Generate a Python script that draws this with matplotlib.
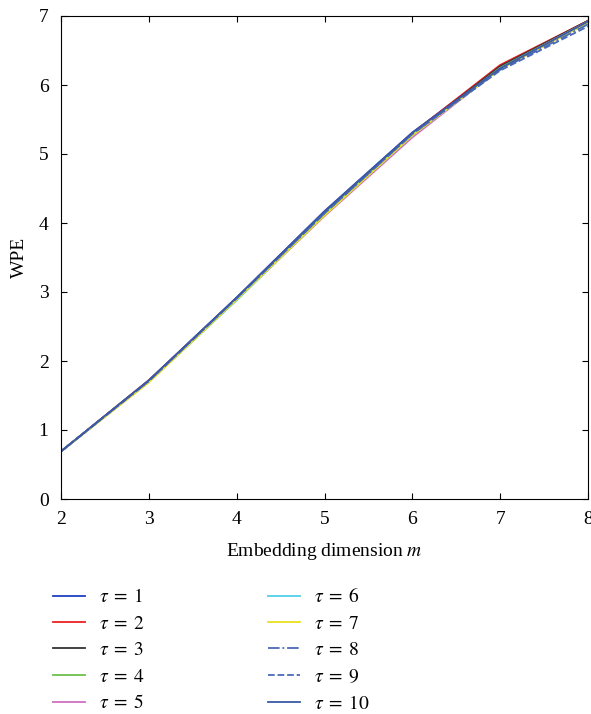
import matplotlib
matplotlib.use("Agg")
import matplotlib.pyplot as plt

plt.rcParams['font.family'] = ['Liberation Serif', 'DejaVu Serif']
plt.rcParams['mathtext.fontset'] = 'stix'

m = [2, 3, 4, 5, 6, 7, 8]
wpe = {
    1: [0.69, 1.72, 2.92, 4.17, 5.31, 6.26, 6.93],
    2: [0.69, 1.72, 2.91, 4.16, 5.30, 6.29, 6.93],
    3: [0.69, 1.71, 2.91, 4.15, 5.29, 6.27, 6.93],
    4: [0.69, 1.70, 2.89, 4.13, 5.28, 6.25, 6.92],
    5: [0.69, 1.70, 2.89, 4.10, 5.24, 6.24, 6.92],
    6: [0.69, 1.70, 2.88, 4.12, 5.27, 6.24, 6.91],
    7: [0.69, 1.69, 2.89, 4.11, 5.27, 6.23, 6.90],
    8: [0.69, 1.71, 2.91, 4.14, 5.29, 6.22, 6.88],
    9: [0.69, 1.71, 2.91, 4.14, 5.29, 6.21, 6.85],
    10: [0.69, 1.72, 2.92, 4.17, 5.31, 6.24, 6.92],
}
colors = {1: '#1f3fbf', 2: '#ee2020', 3: '#333333', 4: '#6cc04a', 5: '#d070c0',
          6: '#50d0e8', 7: '#e8e020', 8: '#4a6ab8', 9: '#4a6ab8', 10: '#3a5aa8'}
styles = {8: '-.', 9: '--'}

fig = plt.figure(figsize=(5.91, 7.14), dpi=100)
ax = fig.add_axes([61/591, 1-499/714, (588-61)/591, (499-16)/714])
for t in range(1, 11):
    ax.plot(m, wpe[t], color=colors[t], linestyle=styles.get(t, '-'), lw=1.3,
            label=r'$\tau\;=\;%d$' % t)
ax.set_xlim(2, 8)
ax.set_ylim(0, 7)
ax.set_xticks(range(2, 9))
ax.set_yticks(range(0, 8))
ax.tick_params(direction='in', top=True, right=True, labelsize=14, length=4, pad=9)
ax.set_xlabel(r'Embedding dimension $m$', fontsize=14, labelpad=9)
ax.set_ylabel('WPE', fontsize=14, labelpad=8)
for s in ax.spines.values():
    s.set_linewidth(0.8)

fig.legend(loc='upper left', bbox_to_anchor=(35/591, 1-570/714), ncol=2, frameon=False,
           fontsize=14, handlelength=1.65, columnspacing=6.3, labelspacing=0.45,
           handletextpad=0.75)
fig.savefig('out.png', dpi=100)
